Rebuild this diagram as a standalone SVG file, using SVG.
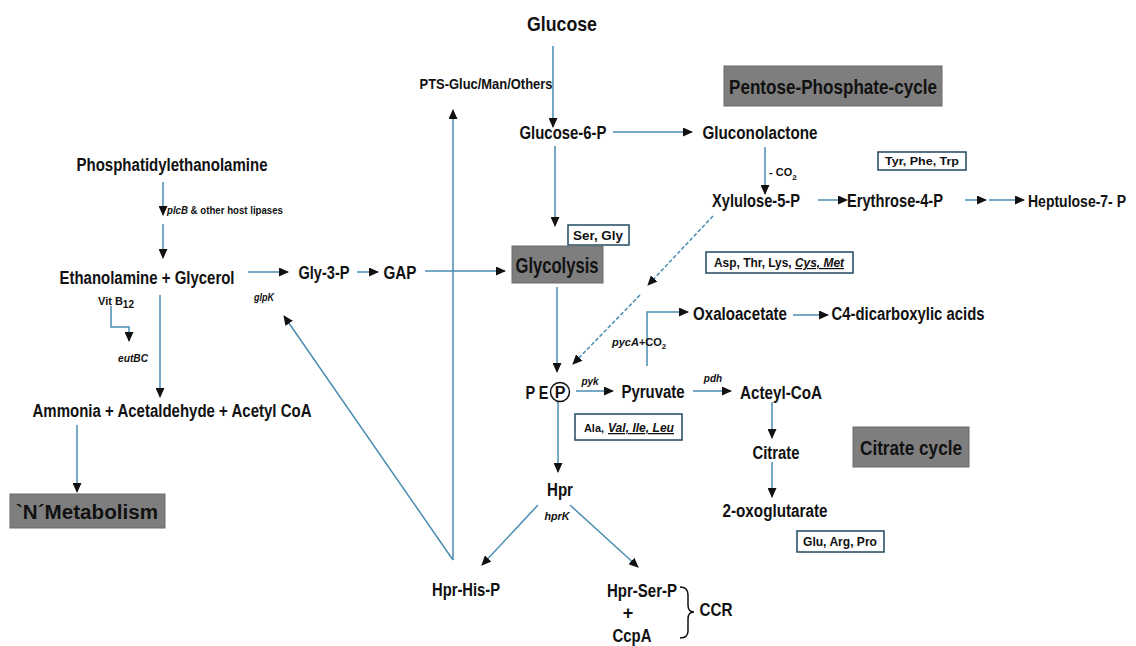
<svg xmlns="http://www.w3.org/2000/svg" width="1136" height="646" viewBox="0 0 1136 646">
<defs>
<style>
.t{font-family:"Liberation Sans",Arial,sans-serif;font-weight:bold;fill:#111;text-anchor:middle}
.s{font-family:"Liberation Sans",Arial,sans-serif;font-weight:bold;fill:#111}
.i{font-style:italic}
.u{text-decoration:underline}
.ln{fill:none;stroke:#4a8db3;stroke-width:1.5}
.dl{fill:none;stroke:#4a8db3;stroke-width:1.5;stroke-dasharray:4 2}
.gb{fill:#7e7e7e;stroke:#6a6a6a;stroke-width:1}
.wb{fill:#fff;stroke:#1f4a60;stroke-width:1.5}
</style>
<marker id="ah" markerWidth="10" markerHeight="9" refX="9" refY="4.5" orient="auto" markerUnits="userSpaceOnUse">
<path d="M0,0 L10,4.5 L0,9 z" fill="#111"/>
</marker>
</defs>
<rect width="1136" height="646" fill="#fff"/>

<g id="connectors">
<line class="ln" x1="553" y1="46" x2="553" y2="127" marker-end="url(#ah)"/>
<line class="ln" x1="613" y1="132" x2="692" y2="132" marker-end="url(#ah)"/>
<line class="ln" x1="555" y1="146" x2="555" y2="226" marker-end="url(#ah)"/>
<line class="ln" x1="765" y1="147" x2="765" y2="194" marker-end="url(#ah)"/>
<line class="ln" x1="818" y1="200" x2="847" y2="200" marker-end="url(#ah)"/>
<line class="ln" x1="965" y1="200" x2="986" y2="200" marker-end="url(#ah)"/>
<line class="ln" x1="989" y1="200" x2="1024" y2="200" marker-end="url(#ah)"/>
<line class="ln" x1="163" y1="182" x2="163" y2="215" marker-end="url(#ah)"/>
<line class="ln" x1="163" y1="224" x2="163" y2="258" marker-end="url(#ah)"/>
<line class="ln" x1="248" y1="272" x2="288" y2="272" marker-end="url(#ah)"/>
<line class="ln" x1="357" y1="272" x2="378" y2="272" marker-end="url(#ah)"/>
<line class="ln" x1="425" y1="271" x2="505" y2="271" marker-end="url(#ah)"/>
<polyline class="ln" points="111,306 111,327 129,327 129,341" marker-end="url(#ah)"/>
<line class="ln" x1="160" y1="295" x2="160" y2="397" marker-end="url(#ah)"/>
<line class="ln" x1="77" y1="425" x2="77" y2="492" marker-end="url(#ah)"/>
<line class="ln" x1="557" y1="287" x2="557" y2="372" marker-end="url(#ah)"/>
<line class="dl" x1="713" y1="216" x2="648" y2="285" marker-end="url(#ah)"/>
<line class="dl" x1="640" y1="295" x2="573" y2="364" marker-end="url(#ah)"/>
<line class="ln" x1="576" y1="391" x2="613" y2="391" marker-end="url(#ah)"/>
<line class="ln" x1="693" y1="391" x2="731" y2="391" marker-end="url(#ah)"/>
<polyline class="ln" points="647,366 647,312 688,312" marker-end="url(#ah)"/>
<line class="ln" x1="793" y1="315" x2="828" y2="315" marker-end="url(#ah)"/>
<line class="ln" x1="772" y1="402" x2="772" y2="438" marker-end="url(#ah)"/>
<line class="ln" x1="772" y1="462" x2="772" y2="497" marker-end="url(#ah)"/>
<line class="ln" x1="558" y1="402" x2="558" y2="472" marker-end="url(#ah)"/>
<line class="ln" x1="538" y1="505" x2="482" y2="565" marker-end="url(#ah)"/>
<line class="ln" x1="570" y1="505" x2="638" y2="567" marker-end="url(#ah)"/>
<line class="ln" x1="453" y1="560" x2="453" y2="110" marker-end="url(#ah)"/>
<line class="ln" x1="453" y1="560" x2="284" y2="316" marker-end="url(#ah)"/>
<path d="M680,587 q8,0 8,8 v10 q0,7 6,7 q-6,0 -6,7 v12 q0,7 -8,7" fill="none" stroke="#111" stroke-width="1.5"/>
</g>

<g id="glucose"><text class="t" x="562" y="31" font-size="21" textLength="70" lengthAdjust="spacingAndGlyphs">Glucose</text></g>
<g id="pts"><text class="t" x="486" y="89" font-size="15" textLength="133" lengthAdjust="spacingAndGlyphs">PTS-Gluc/Man/Others</text></g>
<g id="glucose6p"><text class="t" x="563" y="139" font-size="18" textLength="87" lengthAdjust="spacingAndGlyphs">Glucose-6-P</text></g>
<g id="gluconolactone"><text class="t" x="760" y="139" font-size="18" textLength="115" lengthAdjust="spacingAndGlyphs">Gluconolactone</text></g>
<g id="ppc"><rect class="gb" x="724" y="66" width="218" height="40"/><text class="t" x="833" y="94" font-size="21" textLength="208" lengthAdjust="spacingAndGlyphs">Pentose-Phosphate-cycle</text></g>
<g id="co2a"><text class="s" x="769" y="176" font-size="11">- CO<tspan font-size="8" dy="4">2</tspan></text></g>
<g id="tyr"><rect class="wb" x="878" y="152" width="88" height="18"/><text class="t" x="922" y="165" font-size="11" textLength="74" lengthAdjust="spacingAndGlyphs">Tyr, Phe, Trp</text></g>
<g id="xylulose"><text class="t" x="756" y="207" font-size="18" textLength="88" lengthAdjust="spacingAndGlyphs">Xylulose-5-P</text></g>
<g id="erythrose"><text class="t" x="895" y="207" font-size="19" textLength="96" lengthAdjust="spacingAndGlyphs">Erythrose-4-P</text></g>
<g id="heptulose"><text class="s" x="1126" y="207" font-size="16" text-anchor="end" textLength="98" lengthAdjust="spacingAndGlyphs">Heptulose-7- P</text></g>
<g id="pe"><text class="t" x="172" y="171" font-size="18" textLength="191" lengthAdjust="spacingAndGlyphs">Phosphatidylethanolamine</text></g>
<g id="plcb"><text class="s" x="167" y="214" font-size="10" textLength="116" lengthAdjust="spacingAndGlyphs"><tspan class="i">plcB</tspan> &amp; other host lipases</text></g>
<g id="ethgly"><text class="t" x="147" y="284" font-size="18" textLength="175" lengthAdjust="spacingAndGlyphs">Ethanolamine + Glycerol</text></g>
<g id="glpk"><text class="t i" x="264" y="301" font-size="10" textLength="20" lengthAdjust="spacingAndGlyphs">glpK</text></g>
<g id="gly3p"><text class="t" x="324" y="279" font-size="18" textLength="51" lengthAdjust="spacingAndGlyphs">Gly-3-P</text></g>
<g id="gap"><text class="t" x="400" y="279" font-size="18" textLength="33" lengthAdjust="spacingAndGlyphs">GAP</text></g>
<g id="sergly"><rect class="wb" x="568" y="225" width="61" height="20"/><text class="t" x="598" y="240" font-size="12" textLength="50" lengthAdjust="spacingAndGlyphs">Ser, Gly</text></g>
<g id="glycolysis"><rect class="gb" x="512" y="246" width="91" height="37"/><text class="t" x="557" y="273" font-size="22" textLength="83" lengthAdjust="spacingAndGlyphs">Glycolysis</text></g>
<g id="vitb12"><text class="s" x="98" y="305" font-size="11">Vit B<tspan font-size="10" dy="3">12</tspan></text></g>
<g id="eutbc"><text class="t i" x="133" y="362" font-size="10" textLength="30" lengthAdjust="spacingAndGlyphs">eutBC</text></g>
<g id="ammonia"><text class="t" x="172" y="417" font-size="18" textLength="279" lengthAdjust="spacingAndGlyphs">Ammonia + Acetaldehyde + Acetyl CoA</text></g>
<g id="nmetab"><rect class="gb" x="10" y="494" width="155" height="34"/><text class="t" x="87" y="519" font-size="20" textLength="142" lengthAdjust="spacingAndGlyphs">`N´Metabolism</text></g>
<g id="asp"><rect class="wb" x="706" y="252" width="147" height="21"/><text class="t" x="779" y="267" font-size="12" textLength="130" lengthAdjust="spacingAndGlyphs">Asp, Thr, Lys, <tspan class="i u">Cys, Met</tspan></text></g>
<g id="oxalo"><text class="t" x="740" y="320" font-size="18" textLength="94" lengthAdjust="spacingAndGlyphs">Oxaloacetate</text></g>
<g id="c4"><text class="t" x="908" y="320" font-size="18" textLength="153" lengthAdjust="spacingAndGlyphs">C4-dicarboxylic acids</text></g>
<g id="pyca"><text class="s" x="612" y="346" font-size="11"><tspan class="i">pycA</tspan>+CO<tspan font-size="8" dy="3">2</tspan></text></g>
<g id="pep"><text class="t" x="537" y="399" font-size="18" textLength="23" lengthAdjust="spacingAndGlyphs">P E</text><circle cx="560" cy="392" r="9.5" fill="none" stroke="#111" stroke-width="1.5"/><text class="t" x="560" y="398" font-size="16">P</text></g>
<g id="pyk"><text class="t i" x="590" y="385" font-size="10">pyk</text></g>
<g id="pyruvate"><text class="t" x="653" y="398" font-size="18" textLength="63" lengthAdjust="spacingAndGlyphs">Pyruvate</text></g>
<g id="pdh"><text class="t i" x="713" y="382" font-size="10">pdh</text></g>
<g id="acetylcoa"><text class="t" x="781" y="399" font-size="18" textLength="82" lengthAdjust="spacingAndGlyphs">Acteyl-CoA</text></g>
<g id="ala"><rect class="wb" x="575" y="414" width="107" height="26"/><text class="s" x="584" y="432" font-size="11.5" textLength="20" lengthAdjust="spacingAndGlyphs">Ala,</text><text class="s i u" x="608" y="432" font-size="12.5" textLength="66" lengthAdjust="spacingAndGlyphs">Val, Ile, Leu</text></g>
<g id="citrate"><text class="t" x="776" y="459" font-size="18" textLength="47" lengthAdjust="spacingAndGlyphs">Citrate</text></g>
<g id="citcycle"><rect class="gb" x="853" y="427" width="116" height="40"/><text class="t" x="911" y="455" font-size="21" textLength="102" lengthAdjust="spacingAndGlyphs">Citrate cycle</text></g>
<g id="oxoglut"><text class="t" x="775" y="517" font-size="18" textLength="105" lengthAdjust="spacingAndGlyphs">2-oxoglutarate</text></g>
<g id="gluargpro"><rect class="wb" x="797" y="531" width="87" height="21"/><text class="t" x="840" y="546" font-size="12" textLength="74" lengthAdjust="spacingAndGlyphs">Glu, Arg, Pro</text></g>
<g id="hpr"><text class="t" x="560" y="496" font-size="18" textLength="26" lengthAdjust="spacingAndGlyphs">Hpr</text></g>
<g id="hprk"><text class="t i" x="557" y="520" font-size="10" textLength="25" lengthAdjust="spacingAndGlyphs">hprK</text></g>
<g id="hprhisp"><text class="t" x="466" y="596" font-size="18" textLength="68" lengthAdjust="spacingAndGlyphs">Hpr-His-P</text></g>
<g id="hprserp"><text class="t" x="642" y="597" font-size="18" textLength="70" lengthAdjust="spacingAndGlyphs">Hpr-Ser-P</text><text class="t" x="628" y="619" font-size="18">+</text><text class="t" x="632" y="642" font-size="18" textLength="39" lengthAdjust="spacingAndGlyphs">CcpA</text></g>
<g id="ccr"><text class="t" x="716" y="616" font-size="18" textLength="33" lengthAdjust="spacingAndGlyphs">CCR</text></g>
</svg>
